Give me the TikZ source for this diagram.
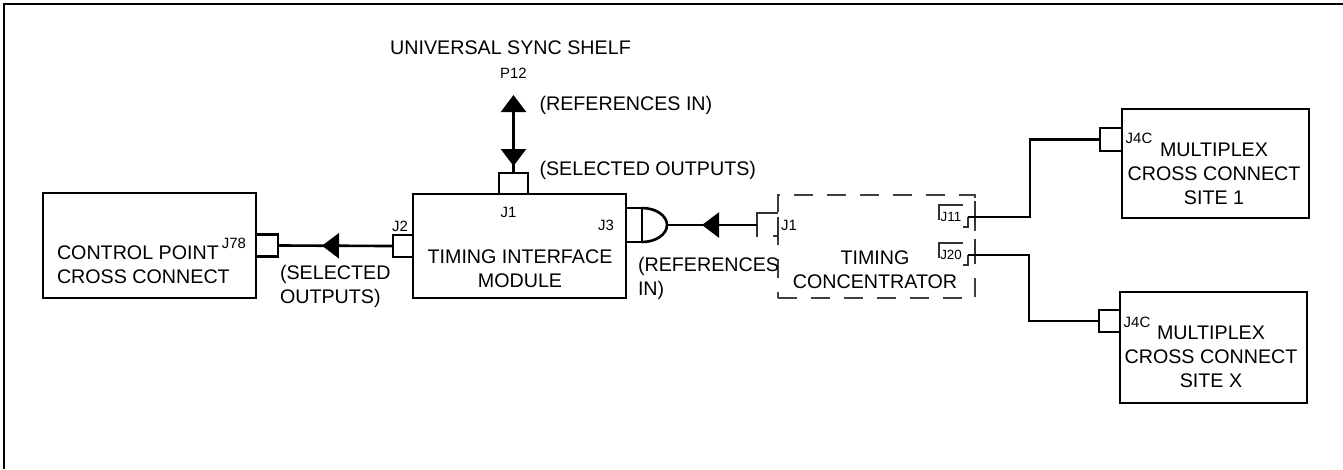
\documentclass[tikz,border=0pt]{standalone}
\usepackage{fontspec}
\setmainfont{Liberation Sans}
\usetikzlibrary{
  positioning, arrows.meta, calc, decorations.markings
}

\begin{document}
\begin{tikzpicture}[
  x=0.2mm, y=-0.2mm,
  every node/.style={inner sep=0pt, outer sep=0pt},
  sigtip/.tip={Triangle[length=3.4mm, width=5mm]},
  unitbox/.style={rectangle, draw=black, line width=1.5pt},
  tconbox/.style={
    rectangle, draw=black!75, line width=0.6pt,
    dash pattern=on 3.8mm off 2.8mm
  },
  jacksq/.style={rectangle, draw=black, line width=1.5pt, fill=white},
  wire/.style={draw=black, line width=1.5pt},
  jackline/.style={draw=black!80, line width=0.6pt},
  frameline/.style={draw=black, line width=1.6pt},
  caption/.style={font=\fontsize{11.2}{13.6}\selectfont},
  pinlabel/.style={font=\fontsize{8.5}{10}\selectfont},
  jacklabel/.style={font=\fontsize{7.6}{9}\selectfont},
  fwdmark/.style={postaction={decorate,
      decoration={markings, mark=at position #1 with {\arrow{sigtip}}}}},
  backmark/.style={postaction={decorate,
      decoration={markings, mark=at position #1 with {\arrowreversed{sigtip}}}}},
]
\useasboundingbox (0,0) rectangle (1343,469);

% Sheet frame
\draw[frameline] (4,469) -- (4,4) -- (1343,4);

% Boxes
\node[unitbox, minimum width=42.6mm, minimum height=21mm] (cpxc) at (149.5,245.5) {};
\node[unitbox, minimum width=42.6mm, minimum height=20.8mm] (tim) at (519.5,246) {};
\node[tconbox, minimum width=39.4mm, minimum height=20.6mm] (tcon) at (876.5,246.5) {};
\node[unitbox, minimum width=37.4mm, minimum height=21.8mm] (mcx1) at (1215.5,163.5) {};
\node[unitbox, minimum width=37.4mm, minimum height=22.2mm] (mcxX) at (1213.5,347.5) {};

% Box texts
\node[caption, align=left, anchor=west] (cpxctxt) at (57,265) {CONTROL POINT\\CROSS CONNECT};
\node[caption, align=center] (timtxt) at (520,269) {TIMING INTERFACE\\MODULE};
\node[caption, align=center] (tcontxt) at (875,269.5) {TIMING\\CONCENTRATOR};
\node[caption, align=center] (mcx1txt) at (1214,174) {MULTIPLEX\\CROSS CONNECT\\SITE 1};
\node[caption, align=center] (mcxXtxt) at (1211,357) {MULTIPLEX\\CROSS CONNECT\\SITE X};

% Jack squares
\node[jacksq, minimum width=4.4mm, minimum height=4.4mm, right=0pt of cpxc] (j78) {};
\node[jacksq, minimum width=4mm, minimum height=4.4mm, left=0pt of tim] (j2) {};
\node[jacksq, minimum width=5.8mm, minimum height=4.2mm, above=0pt of tim, xshift=-1.2mm] (jtop) {};
\node[jacksq, minimum width=4.4mm, minimum height=4.6mm, anchor=east] (j4ca) at ($(mcx1.north west)+(0,30.5)$) {};
\node[jacksq, minimum width=4.2mm, minimum height=4.4mm, anchor=east] (j4cb) at ($(mcxX.north west)+(0,29)$) {};

% Plug J3
\coordinate (j3) at ($(tim.east)+(0,-21)$);
\draw[wire] ($(j3)+(0,-17)$) rectangle ($(j3)+(16,17)$);
\draw[wire] ($(j3)+(16,-17)$) arc[start angle=90, end angle=-90, x radius=5mm, y radius=3.4mm];
\coordinate (j3tip) at ($(j3)+(41,0)$);

% Concentrator jacks
\coordinate (tjA) at ($(tcon.west)+(-21,-21.5)$);
\draw[jackline] (tjA) ++(0,12) -- ++(0,-24) -- ++(21,0)
  ++(0,4) -- ++(0,23) ++(-5,-4) -- ++(5,0);
\coordinate (tj11) at ($(tcon.east)+(-7,-29.5)$);
\coordinate (tj20) at ($(tcon.east)+(-7,8.5)$);
\foreach \j/\t in {tj11/J11, tj20/J20} {
  \draw[jackline] (\j) ++(-29,3) -- ++(0,-15) -- ++(24,0)
    ++(0,22) -- ++(5,0) -- ++(0,-10) ++(7,-16) -- ++(0,24);
  \node[jacklabel] (l\t) at ($(\j)+(-17,0)$) {\t};
}

% Connections
\coordinate (p12tip) at ($(jtop.north)+(0,-78)$);
\draw[wire, -sigtip, backmark=1.4mm] (jtop.north) -- (p12tip);
\draw[wire, fwdmark=14.2mm] (j2.west) -- (j78.east);
\draw[wire, fwdmark=11mm] (tjA) -- (j3tip);
\draw[wire] (tj11) -- ++(62,0) |- (j4ca.west);
\draw[wire] (tj20) -- ++(61,0) |- (j4cb.west);

% Labels
\node[pinlabel] (lj78) at ($(j78.west)+(-22,-2)$) {J78};
\node[pinlabel] (lj2) at ($(j2.north)+(-3,-9)$) {J2};
\node[pinlabel] (ljtop) at ($(jtop.south)+(-5,18)$) {J1};
\node[pinlabel] (lj3) at ($(j3)+(-20,0)$) {J3};
\node[pinlabel] (lp12) at ($(p12tip)+(0,-22)$) {P12};
\node[caption] (ussname) at ($(lp12)+(-3,-25)$) {UNIVERSAL SYNC SHELF};
\node[caption, anchor=west] (refin1) at ($(p12tip)+(26,10)$) {(REFERENCES IN)};
\node[caption, anchor=west] (selout1) at ($(jtop.north)+(26,-3)$) {(SELECTED OUTPUTS)};
\node[caption, anchor=west, align=left] (selout2) at ($(j78.east)+(2,41)$) {(SELECTED\\OUTPUTS)};
\node[caption, anchor=west, align=left] (refin2) at ($(tim.east)+(12,32.5)$) {(REFERENCES\\IN)};
\node[pinlabel] (ltj1) at ($(tjA)+(32,0)$) {J1};
\node[pinlabel] (lj4ca) at ($(j4ca.east)+(17,-1.5)$) {J4C};
\node[pinlabel] (lj4cb) at ($(j4cb.east)+(17,1)$) {J4C};

\end{tikzpicture}
\end{document}
